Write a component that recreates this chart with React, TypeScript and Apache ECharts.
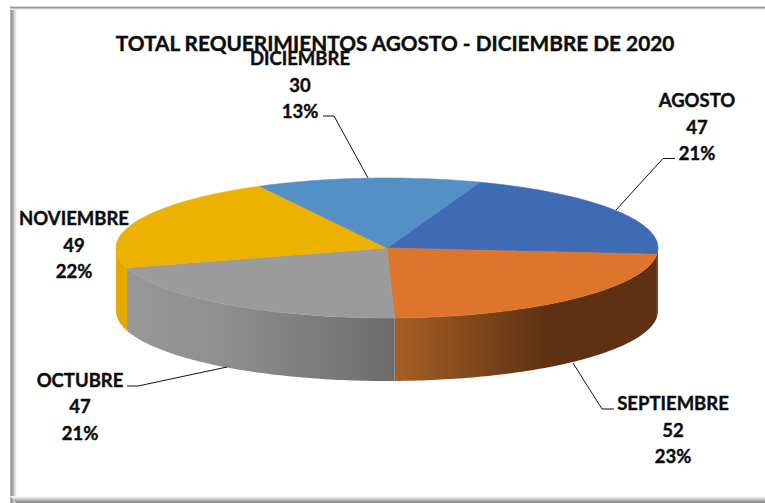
import React, { useEffect, useRef } from "react";
import * as echarts from "echarts";

const titleText = "TOTAL REQUERIMIENTOS AGOSTO - DICIEMBRE DE 2020";
const months = ["AGOSTO", "SEPTIEMBRE", "OCTUBRE", "NOVIEMBRE", "DICIEMBRE"];
const values = [47, 52, 47, 49, 30];

const topColors = ["#3f6bb5", "#dd752d", "#9b9b9b", "#edb100", "#5490c6"];
const sideStops = [
  [[0, "#2f5088"], [1, "#2f5088"]],
  [[0, "#a65f25"], [0.58, "#5e3112"], [1, "#5e3112"]],
  [[0, "#989898"], [0.35, "#8f8f8f"], [1, "#6c6c6c"]],
  [[0, "#e3a900"], [1, "#e3a900"]],
  [[0, "#3f6c95"], [1, "#3f6c95"]],
];

// Pie geometry, in pixels
const CX = 387;
const CY = 248;
const RX = 271;
const RY = 70;
const DEPTH = 63;
const START_DEG = 20;

// Label layout: centre x, centre y of first line, and leader polyline
const labelCenters = [
  [697, 100],
  [673, 403],
  [80, 379.5],
  [74, 218],
  [300, 58],
];
const leaders = [
  [[616, 210], [663, 158.5], [675, 158.5]],
  [[573, 363], [602, 409], [614, 409]],
  [[227, 367], [138, 386], [127, 386]],
  null,
  [[368, 178], [334, 116], [323, 116]],
];

const leftShades = ["#b4b4b4", "#8f8f8f", "#a6a6a6", "#bdbdbd", "#d2d2d2", "#e6e6e6", "#f5f5f5"];
const topShades = ["#d8d8d8", "#9a9a9a", "#c4c4c4", "#eeeeee"];
const bottomShades = ["#f6f6f6", "#e8e8e8", "#d6d6d6", "#c2c2c2", "#aeaeae", "#989898", "#8c8c8c"];

const total = values.reduce((a, b) => a + b, 0);
const rad = (d: number) => (d * Math.PI) / 180;
const px = (d: number) => CX + RX * Math.sin(rad(d));
const py = (d: number) => CY - RY * Math.cos(rad(d));

function arcPoints(a: number, b: number): number[][] {
  const pts: number[][] = [];
  const n = Math.max(2, Math.ceil(Math.abs(b - a)));
  for (let i = 0; i <= n; i++) {
    const d = a + ((b - a) * i) / n;
    pts.push([px(d), py(d)]);
  }
  return pts;
}

function renderSlice(params: any, api: any) {
  const i = params.dataIndex;
  const before = values.slice(0, i).reduce((a, b) => a + b, 0);
  const a = START_DEG + (before / total) * 360;
  const v = api.value(0);
  const b = a + (v / total) * 360;
  const children: any[] = [];

  // Visible wall: the part of the slice between 90 and 270 degrees
  const s = Math.max(a, 90);
  const e = Math.min(b, 270);
  if (e > s) {
    const upper = arcPoints(s, e);
    const lower = upper.map(([x, y]) => [x, y + DEPTH]).reverse();
    children.push({
      type: "polygon",
      z2: 1,
      shape: { points: upper.concat(lower) },
      style: {
        fill: new echarts.graphic.LinearGradient(
          0, 0, 1, 0,
          sideStops[i].map(([offset, color]) => ({ offset, color })) as any
        ),
      },
    });
  }

  // Top face
  children.push({
    type: "polygon",
    z2: 2,
    shape: { points: [[CX, CY] as number[]].concat(arcPoints(a, b)) },
    style: { fill: topColors[i], stroke: topColors[i], lineWidth: 0.6 },
  });

  const leader = leaders[i];
  if (leader) {
    children.push({
      type: "polyline",
      z2: 3,
      shape: { points: leader },
      style: { fill: "none", stroke: "#111111", lineWidth: 1 },
    });
  }

  const [lx, ly] = labelCenters[i];
  children.push({
    type: "text",
    z2: 4,
    x: lx,
    y: ly - 13,
    style: {
      text: `${months[i]}\n${v}\n${Math.round((v / total) * 100)}%`,
      fontFamily: "Lato",
      fontWeight: "bold",
      fontSize: 18.5,
      lineHeight: 26.4,
      fill: "#0d0d0d",
      stroke: "#0d0d0d",
      lineWidth: 0.4,
      align: "center",
      verticalAlign: "top",
    },
  });

  return { type: "group", children };
}

function frameRects() {
  const rects: any[] = [];
  leftShades.forEach((fill, i) =>
    rects.push({ type: "rect", z: -1, shape: { x: 10 + i, y: 6, width: 1, height: 497 }, style: { fill } })
  );
  topShades.forEach((fill, i) =>
    rects.push({ type: "rect", z: -1, shape: { x: 10, y: 6 + i, width: 755, height: 1 }, style: { fill } })
  );
  bottomShades.forEach((fill, i) =>
    rects.push({ type: "rect", z: -1, shape: { x: 10 + i, y: 496 + i, width: 755, height: 1 }, style: { fill } })
  );
  return rects;
}

export default function App() {
  const ref = useRef<HTMLDivElement>(null);
  useEffect(() => {
    const chart = echarts.init(ref.current!, undefined, { renderer: "svg" });
    chart.setOption({
      animation: false,
      backgroundColor: "#ffffff",
      title: {
        text: titleText,
        left: 395,
        top: 32,
        textAlign: "center",
        padding: 0,
        textStyle: {
          fontFamily: "Lato",
          fontWeight: "bold",
          fontSize: 20.8,
          color: "#0d0d0d",
          textBorderColor: "#0d0d0d",
          textBorderWidth: 0.4,
        },
      },
      graphic: frameRects(),
      series: [
        {
          type: "custom",
          coordinateSystem: "none",
          renderItem: renderSlice,
          data: values.map((v, i) => ({ name: months[i], value: [v] })),
          silent: true,
          clip: false,
        },
      ],
    });
    return () => chart.dispose();
  }, []);
  return <div ref={ref} style={{ position: "absolute", left: 0, top: 0, width: 765, height: 503 }} />;
}
